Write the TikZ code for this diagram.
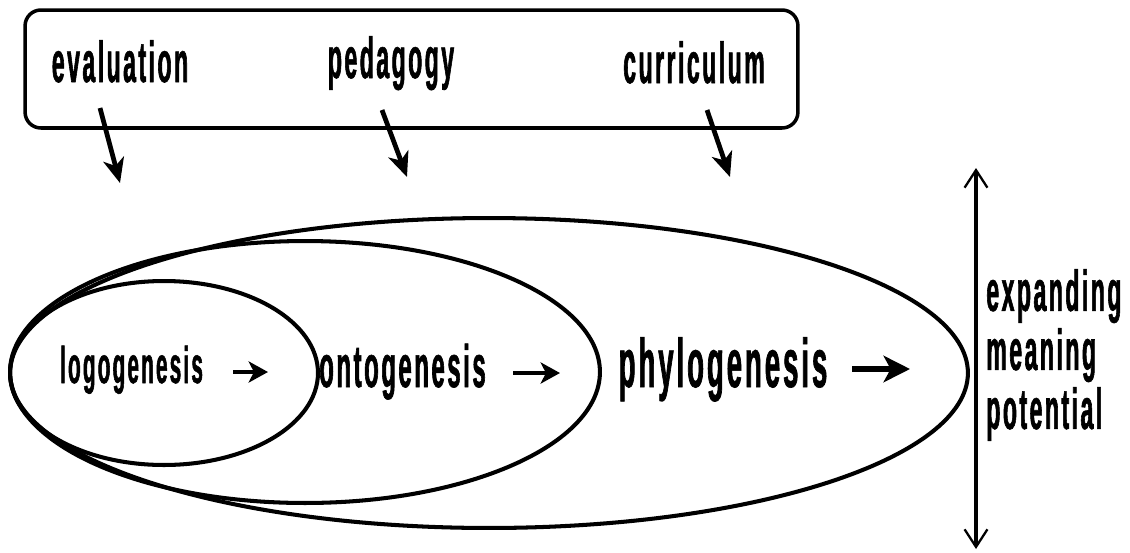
\documentclass[tikz,border=0pt]{standalone}
\usepackage{fontspec}
\newfontfamily\slimfont[FakeStretch=0.40,LetterSpace=4.3,FakeBold=1]{Liberation Sans}
\usetikzlibrary{arrows.meta,shapes.geometric}

\begin{document}
\begin{tikzpicture}[
  x=0.02cm,
  y=-0.02cm,
  >={Stealth[length=14pt,width=12pt,inset=4pt]},
  genesis/.style={ellipse,draw,line width=2.3pt,inner sep=0pt},
  frame/.style={draw,line width=2pt,rounded corners=9pt,inner sep=0pt},
  influence/.style={->,line width=2.7pt},
  growth/.style={->,line width=2.4pt,>={Stealth[length=11pt,width=12pt,inset=3pt]}},
  tag/.style={font=\slimfont\bfseries\fontsize{32.8}{38}\selectfont,inner sep=0pt,anchor=base}
]
\useasboundingbox (0,0) rectangle (1130,552);

% context box
\node[frame,minimum width=15.46cm,minimum height=2.36cm] (context) at (411.5,69) {};
\node[tag] (evaluation) at (120,82) {evaluation};
\node[tag] (pedagogy) at (391,78) {pedagogy};
\node[tag] (curriculum) at (694,83) {curriculum};

\coordinate (evaltail) at (100,108);
\coordinate (evalhead) at (120,183);
\coordinate (pedtail) at (382,110);
\coordinate (pedhead) at (407,177);
\coordinate (curtail) at (707,110);
\coordinate (curhead) at (730,177);

% nested time frames
\node[genesis,minimum width=19.16cm,minimum height=6.2cm] (phylo) at (489,373) {};
\node[genesis,minimum width=11.8cm,minimum height=5.24cm] (onto) at (305,372) {};
\node[genesis,minimum width=6.16cm,minimum height=3.68cm] (logo) at (164,373) {};

\node[tag,font=\slimfont\bfseries\fontsize{29.4}{34}\selectfont] (logolabel) at (131.5,383) {logogenesis};
\node[tag,font=\slimfont\bfseries\fontsize{34}{40}\selectfont] (ontolabel) at (402.5,387) {ontogenesis};
\node[tag,font=\slimfont\bfseries\fontsize{39.2}{45}\selectfont] (phylolabel) at (723,387) {phylogenesis};

\coordinate (logotail) at (233,372);
\coordinate (logohead) at (268,372);
\coordinate (ontotail) at (513,373);
\coordinate (ontohead) at (560,373);
\coordinate (phylotail) at (852,369);
\coordinate (phylohead) at (910,369);

% meaning potential scale
\coordinate (scaletop) at (976,168);
\coordinate (scalebot) at (976,549);
\node[tag,anchor=west,align=left,font=\slimfont\bfseries\fontsize{32.8}{33.6}\selectfont]
  (potential) at (986,355) {expanding\\meaning\\potential};

\draw[influence] (evaltail) -- (evalhead);
\draw[influence] (pedtail) -- (pedhead);
\draw[influence] (curtail) -- (curhead);
\draw[growth] (logotail) -- (logohead);
\draw[growth] (ontotail) -- (ontohead);
\draw[growth,line width=2.9pt,>={Stealth[length=15pt,width=15pt,inset=4pt]}] (phylotail) -- (phylohead);
\draw[<->,line width=2.3pt,>={Straight Barb[length=10pt,width=13pt,line width=1.3pt]}] (scaletop) -- (scalebot);

\end{tikzpicture}
\end{document}
